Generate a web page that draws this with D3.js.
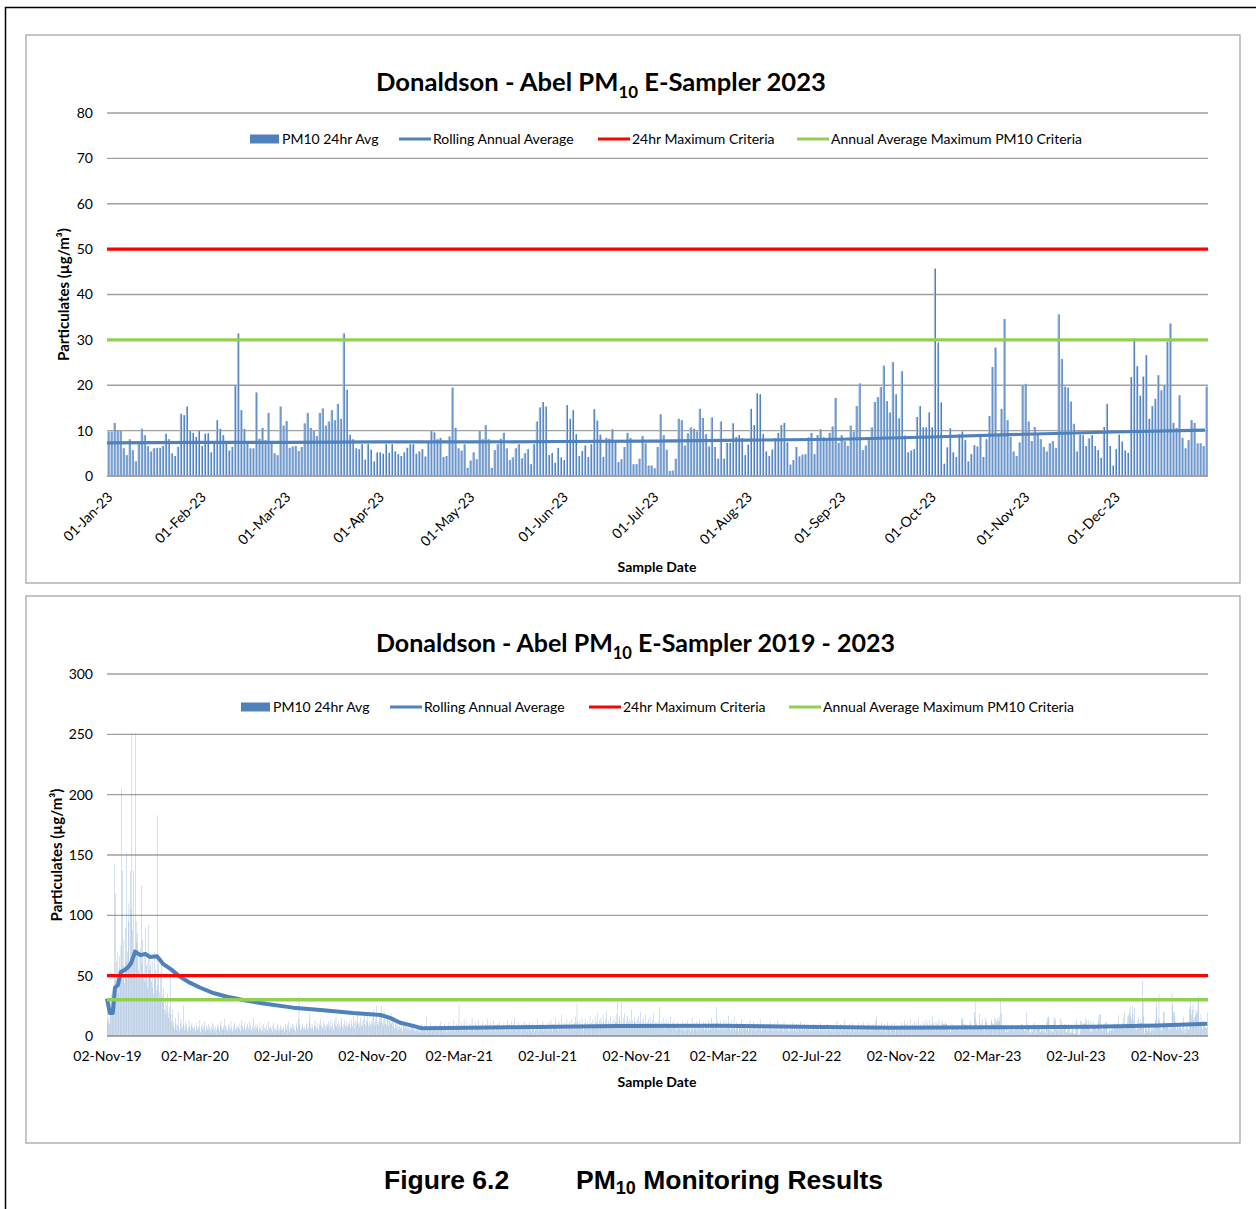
<!DOCTYPE html>
<html><head><meta charset="utf-8">
<script src="https://cdn.jsdelivr.net/npm/d3@7"></script>
<style>body{margin:0;background:#fff;} svg{display:block;}</style>
</head><body><svg id="c" width="1256" height="1209"></svg>
<script>
// ---------------- DATA ----------------
const legendLabels = ["PM10 24hr Avg","Rolling Annual Average","24hr Maximum Criteria","Annual Average Maximum PM10 Criteria"];
const criteria24hr = 50;
const criteriaAnnual = 30;

// Top chart: daily PM10 2023 (from 01-Jan-23)
const start2023 = "2023-01-01";
const pm10_2023 = [
9.8,9.8,11.7,9.9,9.9,6.1,4.6,8.1,5.7,3.2,
7.6,10.4,9.0,6.6,5.4,6.1,6.2,6.2,6.6,9.3,
8.1,5.0,4.4,6.4,13.7,13.4,15.3,9.9,9.5,8.6,
9.9,6.6,9.3,9.4,5.2,7.7,12.3,10.4,9.0,7.7,
5.6,6.4,19.9,31.4,14.5,10.4,7.2,6.1,6.1,18.4,
8.2,10.6,7.9,13.9,7.7,5.0,4.6,15.3,11.1,12.1,
6.2,6.5,6.6,5.5,6.4,11.6,13.9,10.6,9.9,8.8,
13.9,14.9,11.1,12.0,14.5,12.3,15.9,12.6,31.4,19.0,
9.1,8.1,6.1,5.9,7.0,3.6,7.0,5.8,3.2,5.2,
5.2,4.9,7.0,5.1,7.0,5.4,4.8,4.4,5.2,6.2,
7.0,7.0,4.9,5.4,5.9,4.3,7.6,9.9,9.6,8.1,
8.4,4.2,4.4,8.7,19.5,10.6,6.1,5.6,7.0,1.8,
3.4,5.2,3.7,9.9,8.1,11.2,8.1,1.8,5.7,7.0,
8.2,9.5,6.1,3.5,4.1,6.1,7.0,3.9,5.0,5.9,
2.6,7.0,12.0,15.1,16.3,15.3,4.6,5.1,2.9,6.2,
4.1,3.5,15.6,12.6,14.5,9.2,4.4,5.5,6.7,4.2,
7.0,14.7,12.2,9.1,4.2,8.4,8.2,10.3,7.4,3.1,
3.7,6.4,9.5,8.4,2.6,2.6,3.8,8.8,7.2,2.3,
2.3,1.7,6.4,13.6,9.0,5.8,1.1,1.2,3.8,12.6,
12.3,6.7,9.4,10.7,10.4,9.8,14.8,12.8,9.2,6.5,
12.9,6.4,3.8,12.0,3.8,7.3,7.3,11.6,8.6,9.0,
8.3,4.6,6.9,14.8,11.2,18.2,18.0,9.3,5.4,4.4,
5.8,8.3,9.5,11.2,11.7,7.4,2.5,3.5,6.4,4.3,
4.7,4.8,8.5,9.5,4.8,9.0,10.3,8.5,7.8,9.5,
10.9,17.2,7.3,9.0,7.7,6.6,11.1,9.8,15.4,20.4,
5.7,6.7,8.1,10.7,16.3,17.4,19.6,24.3,16.5,14.0,
25.1,18.0,12.7,23.1,8.9,5.2,5.6,5.9,13.0,15.4,
10.7,10.7,14.0,10.7,45.7,29.4,16.2,2.7,6.3,10.5,
5.2,4.2,9.2,9.8,7.9,3.2,4.8,6.8,6.5,9.1,
4.2,8.1,13.2,24.0,28.3,9.3,14.8,34.6,12.3,8.6,
5.4,4.4,7.4,20.0,20.3,12.0,7.7,10.8,9.3,8.1,
6.4,5.4,7.2,7.7,6.2,35.6,25.8,19.7,19.5,16.4,
11.5,5.4,9.1,9.0,6.6,8.3,9.0,6.6,5.7,4.0,
10.8,15.9,6.6,2.3,5.9,9.1,7.6,5.6,5.1,21.8,
30.3,24.2,17.7,21.9,26.6,12.6,15.4,17.0,22.2,18.9,
20.0,29.6,33.6,11.7,10.6,17.8,8.4,6.1,7.9,12.3,
11.7,7.2,7.2,6.6,19.7
];
const rollTopDates  = ["2023-01-01","2023-02-01","2023-03-01","2023-04-01","2023-05-01","2023-06-01","2023-07-01","2023-08-01","2023-09-01","2023-10-01","2023-11-01","2023-12-01","2023-12-31"];
const rollTopValues = [7.3,7.4,7.4,7.5,7.5,7.6,7.7,7.9,8.1,8.6,9.2,9.7,10.1];
const topTickDates = ["2023-01-01","2023-02-01","2023-03-01","2023-04-01","2023-05-01","2023-06-01","2023-07-01","2023-08-01","2023-09-01","2023-10-01","2023-11-01","2023-12-01"];
const topYTicks = [0,10,20,30,40,50,60,70,80];

// Bottom chart: daily PM10 02-Nov-19 .. 31-Dec-23
const start2019 = "2019-11-02";
const pm10_2019 = [
30,12,15,10,22,28,35,25,38,32,143,118,45,62,70,35,48,66,52,75,206,137,58,80,44,90,62,152,70,
95,110,60,137,105,251,88,137,72,64,251,95,78,85,55,66,48,72,125,60,80,52,68,45,90,58,62,40,92,55,65
];
const pm10_2020 = [
58,45,62,40,35,70,48,55,38,183,42,60,36,30,52,65,28,34,40,22,30,18,25,35,20,15,24,49,18,12,22,
8,12,6,15,10,5,9,20,7,4,11,14,6,8,25,9,5,12,7,10,4,6,13,8,5,9,11,7,6,
6,9,4,11,7,5,8,13,6,3,7,10,5,8,12,6,4,9,7,5,10,6,8,4,7,11,5,9,6,3,8,
5,8,10,6,4,9,12,7,5,6,8,14,9,5,7,4,6,10,8,5,12,7,4,6,9,11,6,5,8,7,
7,10,6,4,9,13,8,5,7,11,6,4,8,10,7,5,12,9,6,4,8,15,7,5,9,6,10,8,4,6,11,
6,4,8,5,10,7,3,6,9,5,4,12,7,5,8,6,3,9,11,6,4,7,5,10,8,4,6,9,5,7,
5,8,6,4,10,7,5,9,12,6,4,8,5,7,10,6,9,5,4,11,8,6,14,33,9,6,5,8,10,7,5,
8,6,11,9,5,7,12,19,8,6,10,7,5,9,13,8,6,11,7,5,10,8,14,9,6,7,12,10,5,8,9,
10,7,12,9,6,14,8,11,7,5,13,9,16,8,10,6,12,9,7,11,15,8,6,10,13,9,7,12,8,10,
9,12,7,14,10,8,16,11,6,13,9,12,18,10,7,11,15,8,12,9,14,20,10,8,13,11,17,9,12,7,10,
12,9,15,22,11,8,14,25,10,13,9,18,12,16,25,11,8,14,20,10,13,9,17,12,8,15,11,19,10,13,
8,12,6,10,14,7,9,5,11,8,6,13,7,4,9,10,6,8,12,5,7,9,4,6,11,8,5,7,10,6,4
];
const pm10_2021 = [
5,7,4,9,6,3,8,5,10,6,4,7,9,5,3,16,6,8,4,7,5,11,6,4,8,5,7,9,4,6,5,
7,4,9,6,12,5,8,4,6,10,7,5,3,8,6,11,4,7,9,5,6,13,8,4,7,5,10,6,
9,26,7,5,11,8,4,6,14,9,5,7,12,6,4,8,10,5,7,15,6,9,4,8,11,6,5,7,13,8,4,
6,9,5,12,7,4,8,10,6,14,5,7,9,4,11,6,8,5,13,7,4,9,6,10,5,8,12,6,4,7,
8,5,11,7,4,9,6,13,5,8,10,4,7,12,6,5,9,15,7,4,8,6,11,5,9,7,4,10,6,8,12,
5,7,10,4,6,9,12,5,8,4,7,11,6,3,9,5,8,14,6,4,7,10,5,8,6,12,4,7,9,5,
6,9,4,11,7,5,13,8,4,10,6,7,15,5,9,6,4,12,8,5,7,18,6,9,4,11,7,5,14,8,6,
9,12,6,8,14,7,10,5,11,16,8,26,12,7,9,13,6,10,15,8,5,11,9,14,7,6,12,10,8,17,9,
11,8,14,10,7,16,9,12,19,8,10,13,7,15,11,9,18,12,8,14,10,21,9,13,7,11,16,10,8,12,
10,14,8,12,18,11,28,9,13,16,10,28,12,8,15,11,19,9,13,10,17,12,8,14,11,22,9,13,10,16,12,
11,8,14,10,17,9,12,20,8,13,10,15,9,11,18,8,12,10,14,9,16,11,8,13,10,19,9,12,8,11,
9,13,8,24,10,7,12,9,15,8,11,6,14,9,7,12,10,8,16,9,6,11,8,13,7,10,5,9,12,8,6
];
const pm10_2022 = [
7,10,5,8,12,6,9,4,11,7,5,13,8,6,10,4,9,15,7,5,11,8,6,12,4,9,7,14,5,8,10,
6,9,12,5,8,11,7,4,10,13,6,8,5,15,9,7,11,6,10,8,24,12,7,5,9,13,6,8,
10,7,14,5,9,12,6,8,17,11,7,5,13,9,6,10,16,8,5,12,7,9,4,11,8,6,14,9,5,7,10,
6,9,5,11,7,4,8,13,6,10,5,7,12,9,4,8,6,11,5,9,7,14,6,4,8,10,5,7,9,6,
5,8,4,10,6,12,7,5,9,4,8,11,6,5,7,13,4,9,6,8,5,10,7,4,12,6,8,5,9,7,4,
6,4,9,5,7,11,4,6,8,5,10,4,7,6,9,5,12,4,8,6,5,10,7,4,6,9,5,8,4,7,
5,8,4,6,10,5,7,4,9,6,5,8,4,11,6,5,7,4,9,6,8,5,4,10,7,5,6,4,8,5,7,
6,4,9,5,7,12,5,8,4,6,10,5,7,4,9,6,13,5,8,4,7,6,10,5,4,8,6,11,5,7,4,
7,5,9,6,11,4,8,6,10,5,7,12,6,4,9,7,5,8,11,6,4,9,7,5,10,6,8,13,5,16,
7,5,9,6,4,8,11,5,7,6,10,4,8,5,12,7,6,9,4,8,10,5,7,6,11,4,9,7,5,8,6,
8,6,11,5,9,7,13,6,10,8,5,12,7,9,6,14,8,5,10,7,12,6,9,11,5,8,15,7,10,6,
9,7,12,6,10,8,14,5,11,9,7,13,6,10,8,16,7,11,9,5,12,8,10,6,14,9,7,11,8,13,10
];
const rollBottomDates = ["2019-11-02","2019-11-06","2019-11-10","2019-11-13","2019-11-17","2019-11-21","2019-11-27","2019-12-01","2019-12-05","2019-12-11","2019-12-18","2019-12-25","2019-12-31","2020-01-10","2020-01-18","2020-01-30","2020-02-11","2020-02-25","2020-03-10","2020-03-28","2020-04-16","2020-05-08","2020-06-10","2020-07-16","2020-08-23","2020-10-07","2020-11-14","2020-11-27","2020-12-11","2020-12-25","2021-01-10","2021-02-18","2021-05-22","2021-10-07","2022-02-22","2022-06-17","2022-10-20","2023-03-07","2023-07-24","2023-10-24","2023-12-31"];
const rollBottomValues = [31,19,19,40,42,53,55,57,60,70,67,68,65.5,66,60,55,49,44,40,35.6,32.5,29.8,26.5,23.5,21.5,19,17.4,15,11,9,6.4,6.6,7.3,8.3,8.5,7.7,6.9,7.2,7.7,8.8,10.2];
const bottomTickDates = ["2019-11-02","2020-03-02","2020-07-02","2020-11-02","2021-03-02","2021-07-02","2021-11-02","2022-03-02","2022-07-02","2022-11-02","2023-03-02","2023-07-02","2023-11-02"];
const bottomYTicks = [0,50,100,150,200,250,300];

// ---------------- DRAW ----------------
const FONT = "Lato, 'Open Sans', sans-serif";
const parse = d3.utcParse("%Y-%m-%d");
const fmt = d3.utcFormat("%d-%b-%y");
const svg = d3.select("#c");
svg.append("rect").attr("width",1256).attr("height",1209).attr("fill","#fff");
svg.append("path").attr("d","M5.5,1209 V7.5 H1256").attr("fill","none").attr("stroke","#000").attr("stroke-width",1.5);

function series(startStr, values){
  const s = parse(startStr);
  return values.map((v,i)=>({date:d3.utcDay.offset(s,i), value:v}));
}

function drawChart(cfg){
  const g = svg.append("g");
  g.append("rect").attr("x",cfg.box[0]).attr("y",cfg.box[1]).attr("width",cfg.box[2]).attr("height",cfg.box[3])
    .attr("fill","#fff").attr("stroke","#A6A6A6").attr("stroke-width",1.3);
  const x = d3.scaleUtc().domain(cfg.xDomain).range([107,1208]);
  const y = d3.scaleLinear().domain([0,cfg.yMax]).range([cfg.y0,cfg.yTop]);

  // gridlines
  g.append("g").selectAll("line").data(cfg.yTicks).join("line")
    .attr("x1",107).attr("x2",1208).attr("y1",d=>y(d)).attr("y2",d=>y(d))
    .attr("stroke","#A0A0A0").attr("stroke-width",1.4);

  // y axis labels
  const ya = g.append("g").attr("transform","translate(107,0)")
    .call(d3.axisLeft(y).tickValues(cfg.yTicks).tickSize(0).tickPadding(14));
  ya.select(".domain").remove();
  ya.selectAll("text").attr("font-family",FONT).attr("font-size",14).attr("fill","#000");

  // bars
  const bars = g.append("g");
  cfg.data.forEach(s=>{
    bars.selectAll(null).data(s).join("rect")
      .attr("x",d=>x(d.date)+cfg.barOff)
      .attr("width",cfg.barW)
      .attr("y",d=>y(d.value))
      .attr("height",d=>y(0)-y(d.value))
      .attr("fill",cfg.barFill).attr("fill-opacity",cfg.barOpacity);
    if(cfg.barEdge){
      bars.selectAll(null).data(s).join("rect")
        .attr("x",d=>x(d.date)+cfg.barOff+cfg.barW-1)
        .attr("width",1)
        .attr("y",d=>y(d.value))
        .attr("height",d=>y(0)-y(d.value))
        .attr("fill",cfg.barEdge);
    }
  });

  // x axis
  const xa = g.append("g").attr("transform",`translate(0,${cfg.y0})`)
    .call(d3.axisBottom(x).tickValues(cfg.xTicks.map(parse)).tickFormat(fmt).tickSize(0));
  xa.select(".domain").remove();
  xa.selectAll("text").attr("font-family",FONT).attr("font-size",14).attr("fill","#000");
  if(cfg.rotate){
    xa.selectAll("text").attr("y",0).attr("dy",0).attr("x",0).attr("text-anchor","end")
      .attr("transform","translate(6,22) rotate(-45)");
  } else {
    xa.selectAll("text").attr("y",25).attr("dy",0);
  }
  g.append("line").attr("x1",107).attr("x2",1208).attr("y1",cfg.y0).attr("y2",cfg.y0)
    .attr("stroke","#A0A0A0").attr("stroke-width",1.4);

  // rolling average
  const line = d3.line().x(d=>x(d.date)).y(d=>y(d.value));
  const roll = cfg.rollDates.map((d,i)=>({date:parse(d), value:cfg.rollValues[i]}));
  g.append("path").datum(roll).attr("d",line).attr("fill","none").attr("stroke","#4F81BD")
    .attr("stroke-width",cfg.rollW).attr("stroke-linejoin","round");
  // criteria
  g.append("line").attr("x1",107).attr("x2",1208).attr("y1",y(criteria24hr)).attr("y2",y(criteria24hr))
    .attr("stroke","#FF0000").attr("stroke-width",3.2);
  g.append("line").attr("x1",107).attr("x2",1208).attr("y1",y(criteriaAnnual)).attr("y2",y(criteriaAnnual))
    .attr("stroke","#92D050").attr("stroke-width",3.4);

  // title
  const t = g.append("text").attr("x",cfg.titleX).attr("y",cfg.titleY).attr("font-family",FONT)
    .attr("font-weight","bold").attr("font-size",cfg.titleSize).attr("fill","#000");
  t.append("tspan").text("Donaldson - Abel PM");
  t.append("tspan").text("10").attr("font-size",cfg.titleSize*0.66).attr("dy",7);
  t.append("tspan").text(cfg.titleTail).attr("dy",-7);

  // legend
  const L = cfg.legend, ly = cfg.legendY;
  const lg = g.append("g").attr("font-family",FONT).attr("font-size",14);
  lg.append("rect").attr("x",L[0]).attr("y",ly-4.5).attr("width",29).attr("height",9).attr("fill","#4F81BD");
  const cols = [null,"#4F81BD","#FF0000","#92D050"];
  [1,2,3].forEach(i=>{
    lg.append("line").attr("x1",L[i]).attr("x2",L[i]+32).attr("y1",ly).attr("y2",ly)
      .attr("stroke",cols[i]).attr("stroke-width",3);
  });
  legendLabels.forEach((lab,i)=>{
    lg.append("text").attr("x",L[i]+(i===0?32:34)).attr("y",ly).attr("dy","0.35em").text(lab);
  });

  // axis titles
  g.append("text").attr("transform",`translate(${cfg.yTitleX},${(cfg.y0+cfg.yTop)/2}) rotate(-90)`)
    .attr("text-anchor","middle").attr("font-family",FONT).attr("font-weight","bold").attr("font-size",15)
    .text("Particulates (µg/m³)");
  g.append("text").attr("x",657).attr("y",cfg.xTitleY).attr("text-anchor","middle")
    .attr("font-family",FONT).attr("font-weight","bold").attr("font-size",14).text("Sample Date");
}

drawChart({
  box:[26,35,1214,548],
  xDomain:[parse("2023-01-01"), parse("2024-01-01")],
  y0:476, yTop:113, yMax:80, yTicks:topYTicks,
  data:[series(start2023, pm10_2023)],
  barOff:0.4, barW:2.1, barFill:"#9FBBE0", barOpacity:1, barEdge:"#4F81BD",
  xTicks:topTickDates, rotate:true,
  rollDates:rollTopDates, rollValues:rollTopValues, rollW:3.2,
  titleX:376, titleY:91, titleSize:25.6, titleTail:" E-Sampler 2023",
  legend:[250,399,598,797], legendY:139,
  yTitleX:69, xTitleY:572
});

drawChart({
  box:[26,596,1214,547],
  xDomain:[parse("2019-11-02"), parse("2024-01-01")],
  y0:1036, yTop:674, yMax:300, yTicks:bottomYTicks,
  data:[series(start2019,pm10_2019), series("2020-01-01",pm10_2020), series("2021-01-01",pm10_2021),
        series("2022-01-01",pm10_2022), series(start2023,pm10_2023)],
  barOff:0, barW:0.45, barFill:"#4F81BD", barOpacity:0.55, barEdge:null,
  xTicks:bottomTickDates, rotate:false,
  rollDates:rollBottomDates, rollValues:rollBottomValues, rollW:4,
  titleX:376, titleY:652, titleSize:25.0, titleTail:" E-Sampler 2019 - 2023",
  legend:[241,390,589,789], legendY:707,
  yTitleX:62, xTitleY:1087
});

// figure caption
const cap = svg.append("g").attr("font-family","'Liberation Sans', Arial, sans-serif").attr("font-weight","bold").attr("font-size",26.5);
cap.append("text").attr("x",384).attr("y",1189).text("Figure 6.2");
const c2 = cap.append("text").attr("x",576).attr("y",1189);
c2.append("tspan").text("PM");
c2.append("tspan").text("10").attr("font-size",18).attr("dy",5);
c2.append("tspan").text(" Monitoring Results").attr("dy",-5);
</script></body></html>
